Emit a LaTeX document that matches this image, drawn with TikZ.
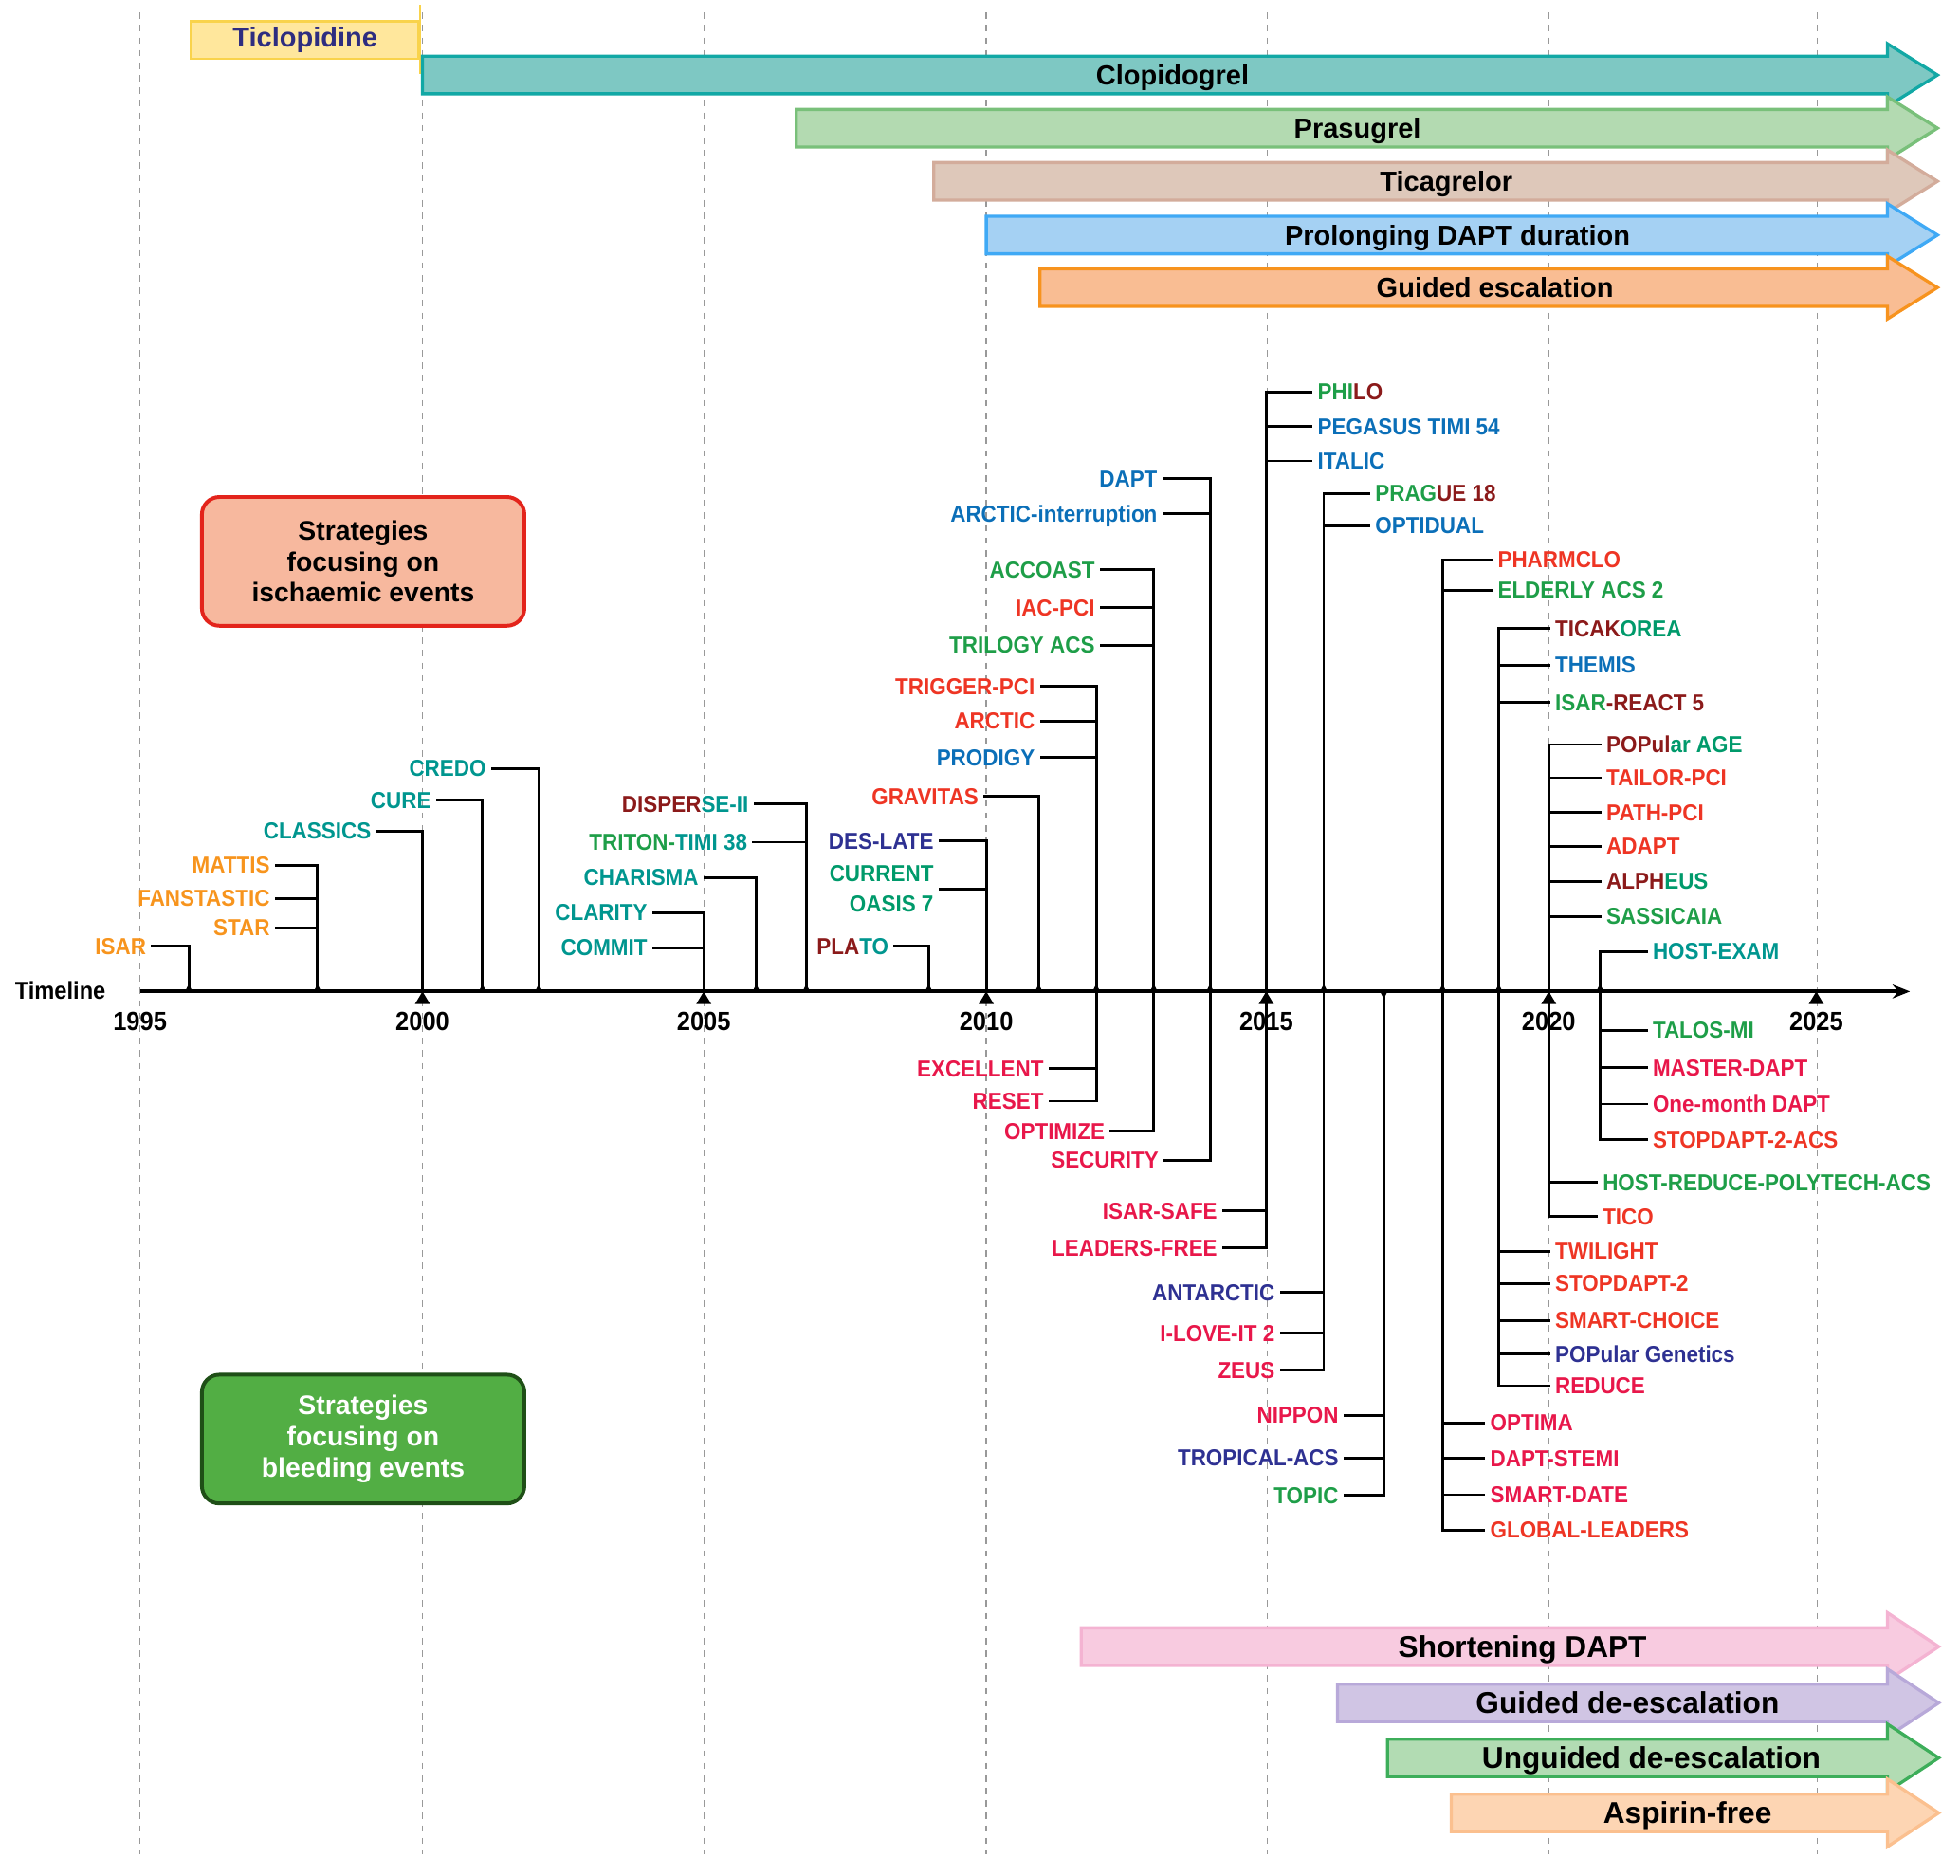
\documentclass[tikz,border=0pt]{standalone}
\usepackage{fontspec}
\setmainfont{Liberation Sans}
\newfontfamily\trialfont[FakeStretch=0.92]{Liberation Sans}
\usetikzlibrary{arrows.meta,positioning}

% trial colours
\definecolor{trOrange}{HTML}{F7941D}
\definecolor{trTeal}{HTML}{00968F}
\definecolor{trJade}{HTML}{009A6B}
\definecolor{trGreen}{HTML}{1E9E48}
\definecolor{trBrown}{HTML}{8B1A1A}
\definecolor{trRed}{HTML}{EE3524}
\definecolor{trCrimson}{HTML}{E8174A}
\definecolor{trBlue}{HTML}{0B6FB8}
\definecolor{trNavy}{HTML}{2E3192}
% band colours
\definecolor{ticFill}{HTML}{FFE79C}
\definecolor{ticLine}{HTML}{F9D34B}
\definecolor{ticText}{HTML}{2E2D80}
\definecolor{clopFill}{HTML}{7EC8C3}
\definecolor{clopLine}{HTML}{12A8A5}
\definecolor{prasFill}{HTML}{B3DAB1}
\definecolor{prasLine}{HTML}{79C07A}
\definecolor{ticaFill}{HTML}{DEC8BA}
\definecolor{ticaLine}{HTML}{D3AC9B}
\definecolor{prolFill}{HTML}{A5D1F3}
\definecolor{prolLine}{HTML}{3FA9F5}
\definecolor{escFill}{HTML}{F9BD93}
\definecolor{escLine}{HTML}{F7931E}
\definecolor{shortFill}{HTML}{F8CBE0}
\definecolor{shortLine}{HTML}{F4B3D2}
\definecolor{gdeFill}{HTML}{D0C5E4}
\definecolor{gdeLine}{HTML}{B8A9D9}
\definecolor{udeFill}{HTML}{B2DCB3}
\definecolor{udeLine}{HTML}{3DAE5A}
\definecolor{aspFill}{HTML}{FDD5B3}
\definecolor{aspLine}{HTML}{FBC08F}
\definecolor{ischFill}{HTML}{F7B89E}
\definecolor{ischLine}{HTML}{E3241B}
\definecolor{bleedFill}{HTML}{52AE44}
\definecolor{bleedLine}{HTML}{1F4F17}

\tikzset{
  trial/.style={font=\trialfont\bfseries\fontsize{18.5}{21}\selectfont, inner xsep=5pt, inner ysep=1pt, text depth=0pt},
  year/.style={font=\trialfont\bfseries\fontsize{21}{24}\selectfont, text depth=0pt},
  stem/.style={line width=2.2pt, line cap=rect},
  timeaxis/.style={line width=3pt, -{Stealth[length=14pt,width=11pt]}},
  yearline/.style={black!40, line width=1pt, dash pattern=on 5pt off 5pt},
  drug/.style={font=\bfseries\fontsize{22}{26}\selectfont, text depth=0pt},
  strat/.style={font=\bfseries\fontsize{24}{28}\selectfont, text depth=0pt},
  bandline/.style={line width=2.5pt, line join=miter},
  ticbox/.style={fill=ticFill, draw=ticLine, line width=2pt, minimum width=182pt, minimum height=30pt, text=ticText, font=\bfseries\fontsize{22}{26}\selectfont},
  aim/.style={rounded corners=14pt, line width=3pt, minimum width=258pt, minimum height=103pt, align=center, font=\bfseries\fontsize{21.5}{25}\selectfont}
}

\begin{document}
\begin{tikzpicture}[x=1pt,y=-1pt]
\useasboundingbox (0,0) rectangle (1568,1500);

% year grid
\foreach \x in {112,338,563,789,1014,1239,1454}
  \draw[yearline] (\x,10) -- (\x,1483);

% drugs
\node[ticbox] (ticlo) at (244,32) {Ticlopidine};
\draw[ticLine, line width=2pt] (ticlo.east) ++(0,-28) -- ++(0,55);
\foreach \xa/\yc/\fc/\lc/\nm/\lx/\txt in {
  338/60/clopFill/clopLine/clop/938/Clopidogrel,
  637/102.5/prasFill/prasLine/pras/1086/Prasugrel,
  747/145/ticaFill/ticaLine/tica/1157/Ticagrelor,
  789/188/prolFill/prolLine/prol/1166/Prolonging DAPT duration,
  832/230/escFill/escLine/esc/1196/Guided escalation}
{
  \filldraw[bandline, fill=\fc, draw=\lc] (\xa,\yc-15) -- (1510,\yc-15) -- (1510,\yc-25) -- (1550,\yc)
    -- (1510,\yc+25) -- (1510,\yc+15) -- (\xa,\yc+15) -- cycle;
  \node[drug] (\nm) at (\lx,\yc) {\txt};
}

% strategies
\foreach \xa/\yc/\fc/\lc/\nm/\lx/\txt in {
  865/1317/shortFill/shortLine/shortdapt/1218/Shortening DAPT,
  1070/1362/gdeFill/gdeLine/guidedde/1302/Guided de-escalation,
  1110/1406/udeFill/udeLine/unguidedde/1321/Unguided de-escalation,
  1161/1450/aspFill/aspLine/aspfree/1350/Aspirin-free}
{
  \filldraw[bandline, fill=\fc, draw=\lc] (\xa,\yc-15) -- (1510,\yc-15) -- (1510,\yc-27) -- (1551,\yc)
    -- (1510,\yc+27) -- (1510,\yc+15) -- (\xa,\yc+15) -- cycle;
  \node[strat] (\nm) at (\lx,\yc) {\txt};
}
\node[aim, fill=ischFill, draw=ischLine] (ischaemic) at (290.5,449) {Strategies\\focusing on\\ischaemic events};
\node[aim, fill=bleedFill, draw=bleedLine, text=white] (bleeding) at (290.5,1151) {Strategies\\focusing on\\bleeding events};

% Timeline
\foreach \t/\x in {1995/112,1996/151,1998/254,2000/338,2001/386,2002/431,2005/563,2006/605,2007/645,
  2009/743,2010/789,2011/831,2012/877,2013/923,2014/968,2015/1013,2016/1059,2017/1107,2018/1154,
  2019/1199,2020/1239,2021/1280,2025/1453}
  \coordinate (t\t) at (\x,793);
\coordinate (tend) at (1528,793);
\draw[timeaxis] (t1995) -- (tend);
\node[year, anchor=east, font=\trialfont\bfseries\fontsize{19.5}{22}\selectfont] (timeline) at (88,792) {Timeline};
\foreach \t in {1995,2000,2005,2010,2015,2020,2025}
  \node[year] (l\t) at ([yshift=-24pt]t\t) {\t};
\foreach \t in {2000,2005,2010,2015,2020,2025}
  \fill (t\t) ++(-6,10) -- ++(6,-10) -- ++(6,10) -- cycle;

% above the line, labels on the left
\node[trial, anchor=east, text=trOrange] (isar) at (122,757) {ISAR};
\draw[stem] (t1996) |- (isar.east);
\foreach \n/\yy/\txt in {mattis/692/MATTIS, fanstastic/718.6/FANSTASTIC, star/742/STAR}
{ \node[trial, anchor=east, text=trOrange] (\n) at (221,\yy) {\txt};
  \draw[stem] (\n.east) -- (\n.east -| t1998); }
\draw[stem] (t1998) -- (t1998 |- mattis.east);
\node[trial, anchor=east, text=trTeal] (classics) at (302,664.6) {CLASSICS};
\draw[stem] (t2000) |- (classics.east);
\node[trial, anchor=east, text=trTeal] (cure) at (350,640) {CURE};
\draw[stem] (t2001) |- (cure.east);
\node[trial, anchor=east, text=trTeal] (credo) at (394,614.5) {CREDO};
\draw[stem] (t2002) |- (credo.east);
\foreach \n/\yy/\txt in {clarity/730/CLARITY, commit/758/COMMIT}
{ \node[trial, anchor=east, text=trTeal] (\n) at (523,\yy) {\txt};
  \draw[stem] (\n.east) -- (\n.east -| t2005); }
\draw[stem] (t2005) -- (t2005 |- clarity.east);
\node[trial, anchor=east, text=trTeal] (charisma) at (564,702) {CHARISMA};
\draw[stem] (t2006) |- (charisma.east);
\node[trial, anchor=east, text=trBrown] (disperse) at (604,643) {DISPER\textcolor{trTeal}{SE-II}};
\node[trial, anchor=east, text=trGreen] (triton) at (603,673.6) {TRITON-\textcolor{trTeal}{TIMI 38}};
\draw[stem] (t2007) |- (disperse.east);
\draw[stem] (triton.east) -- (triton.east -| t2007);
\node[trial, anchor=east, text=trBrown] (plato) at (716,757) {PLA\textcolor{trTeal}{TO}};
\draw[stem] (t2009) |- (plato.east);
\node[trial, anchor=east, text=trNavy] (deslate) at (752,672.6) {DES-LATE};
\node[trial, anchor=east, text=trJade, align=right] (current) at (752,711) {CURRENT\\[3pt]OASIS 7};
\draw[stem] (t2010) |- (deslate.east);
\draw[stem] (current.east) -- (current.east -| t2010);
\node[trial, anchor=east, text=trRed] (gravitas) at (788,637) {GRAVITAS};
\draw[stem] (t2011) |- (gravitas.east);
\foreach \n/\yy/\c/\txt in {trigger/549/trRed/TRIGGER-PCI, arctic/576.6/trRed/ARCTIC, prodigy/606/trBlue/PRODIGY}
{ \node[trial, anchor=east, text=\c] (\n) at (833,\yy) {\txt};
  \draw[stem] (\n.east) -- (\n.east -| t2012); }
\draw[stem] (t2012) -- (t2012 |- trigger.east);
\foreach \n/\yy/\c/\txt in {accoast/455.6/trGreen/ACCOAST, iacpci/486/trRed/IAC-PCI, trilogy/516/trGreen/TRILOGY ACS}
{ \node[trial, anchor=east, text=\c] (\n) at (881,\yy) {\txt};
  \draw[stem] (\n.east) -- (\n.east -| t2013); }
\draw[stem] (t2013) -- (t2013 |- accoast.east);
\foreach \n/\yy/\txt in {dapt/383/DAPT, arcticint/411/ARCTIC-interruption}
{ \node[trial, anchor=east, text=trBlue] (\n) at (931,\yy) {\txt};
  \draw[stem] (\n.east) -- (\n.east -| t2014); }
\draw[stem] (t2014) -- (t2014 |- dapt.east);

% above the line, labels on the right
\foreach \n/\yy/\c/\txt in {philo/313.5/trGreen/{PHI\textcolor{trBrown}{LO}}, pegasus/341/trBlue/PEGASUS TIMI 54, italic/368.7/trBlue/ITALIC}
{ \node[trial, anchor=west, text=\c] (\n) at (1049,\yy) {\txt};
  \draw[stem] (\n.west) -- (\n.west -| t2015); }
\draw[stem] (t2015) -- (t2015 |- philo.west);
\foreach \n/\yy/\c/\txt in {prague/394.5/trGreen/{PRAG\textcolor{trBrown}{UE 18}}, optidual/420.5/trBlue/OPTIDUAL}
{ \node[trial, anchor=west, text=\c] (\n) at (1095,\yy) {\txt};
  \draw[stem] (\n.west) -- (\n.west -| t2016); }
\draw[stem] (t2016) -- (t2016 |- prague.west);
\foreach \n/\yy/\c/\txt in {pharmclo/447.6/trRed/PHARMCLO, elderly/472/trGreen/ELDERLY ACS 2}
{ \node[trial, anchor=west, text=\c] (\n) at (1193,\yy) {\txt};
  \draw[stem] (\n.west) -- (\n.west -| t2018); }
\draw[stem] (t2018) -- (t2018 |- pharmclo.west);
\foreach \n/\yy/\c/\txt in {ticakorea/502.7/trBrown/{TICAK\textcolor{trJade}{OREA}}, themis/532/trBlue/THEMIS, isarreact/562/trGreen/{ISAR\textcolor{trBrown}{-REACT 5}}}
{ \node[trial, anchor=west, text=\c] (\n) at (1239,\yy) {\txt};
  \draw[stem] (\n.west) -- (\n.west -| t2019); }
\draw[stem] (t2019) -- (t2019 |- ticakorea.west);
\foreach \n/\yy/\c/\txt in {popage/595.5/trBrown/{POPul\textcolor{trJade}{ar AGE}}, tailor/622/trRed/TAILOR-PCI, pathpci/650/trRed/PATH-PCI,
  adapt/677/trRed/ADAPT, alpheus/705/trBrown/{ALPH\textcolor{trJade}{EUS}}, sassicaia/733/trGreen/SASSICAIA}
{ \node[trial, anchor=west, text=\c] (\n) at (1280,\yy) {\txt};
  \draw[stem] (\n.west) -- (\n.west -| t2020); }
\draw[stem] (t2020) -- (t2020 |- popage.west);
\node[trial, anchor=west, text=trTeal] (hostexam) at (1317,761) {HOST-EXAM};
\draw[stem] (t2021) |- (hostexam.west);

% below the line, labels on the left
\foreach \n/\yy/\txt in {excellent/854.6/EXCELLENT, reset/880.7/RESET}
{ \node[trial, anchor=east, text=trCrimson] (\n) at (840,\yy) {\txt};
  \draw[stem] (\n.east) -- (\n.east -| t2012); }
\draw[stem] (t2012) -- (t2012 |- reset.east);
\node[trial, anchor=east, text=trCrimson] (optimize) at (889,904.7) {OPTIMIZE};
\draw[stem] (t2013) |- (optimize.east);
\node[trial, anchor=east, text=trCrimson] (security) at (932,928) {SECURITY};
\draw[stem] (t2014) |- (security.east);
\foreach \n/\yy/\txt in {isarsafe/968.4/ISAR-SAFE, leadersfree/998/LEADERS-FREE}
{ \node[trial, anchor=east, text=trCrimson] (\n) at (979,\yy) {\txt};
  \draw[stem] (\n.east) -- (\n.east -| t2015); }
\draw[stem] (t2015) -- (t2015 |- leadersfree.east);
\foreach \n/\yy/\c/\txt in {antarctic/1033.7/trNavy/ANTARCTIC, iloveit/1066.3/trCrimson/I-LOVE-IT 2, zeus/1096/trCrimson/ZEUS}
{ \node[trial, anchor=east, text=\c] (\n) at (1025,\yy) {\txt};
  \draw[stem] (\n.east) -- (\n.east -| t2016); }
\draw[stem] (t2016) -- (t2016 |- zeus.east);
\foreach \n/\yy/\c/\txt in {nippon/1132/trCrimson/NIPPON, tropical/1166/trNavy/TROPICAL-ACS, topic/1196/trGreen/TOPIC}
{ \node[trial, anchor=east, text=\c] (\n) at (1076,\yy) {\txt};
  \draw[stem] (\n.east) -- (\n.east -| t2017); }
\draw[stem] (t2017) -- (t2017 |- topic.east);

% below the line, labels on the right
\foreach \n/\yy/\c/\txt in {talos/824/trGreen/TALOS-MI, masterdapt/854/trCrimson/MASTER-DAPT, onemonth/883/trCrimson/One-month DAPT, stopacs/911.5/trRed/STOPDAPT-2-ACS}
{ \node[trial, anchor=west, text=\c] (\n) at (1317,\yy) {\txt};
  \draw[stem] (\n.west) -- (\n.west -| t2021); }
\draw[stem] (t2021) -- (t2021 |- stopacs.west);
\foreach \n/\yy/\c/\txt in {hostreduce/945.7/trGreen/HOST-REDUCE-POLYTECH-ACS, tico/973/trRed/TICO}
{ \node[trial, anchor=west, text=\c] (\n) at (1277,\yy) {\txt};
  \draw[stem] (\n.west) -- (\n.west -| t2020); }
\draw[stem] (t2020) -- (t2020 |- tico.west);
\foreach \n/\yy/\c/\txt in {twilight/1000.6/trRed/TWILIGHT, stopdapt/1026.6/trRed/STOPDAPT-2, smartchoice/1056/trRed/SMART-CHOICE,
  popgen/1083/trNavy/POPular Genetics, reduce/1108.3/trCrimson/REDUCE}
{ \node[trial, anchor=west, text=\c] (\n) at (1239,\yy) {\txt};
  \draw[stem] (\n.west) -- (\n.west -| t2019); }
\draw[stem] (t2019) -- (t2019 |- reduce.west);
\foreach \n/\yy/\c/\txt in {optima/1138/trCrimson/OPTIMA, daptstemi/1166.4/trCrimson/DAPT-STEMI, smartdate/1195.5/trCrimson/SMART-DATE, global/1223.7/trRed/GLOBAL-LEADERS}
{ \node[trial, anchor=west, text=\c] (\n) at (1187,\yy) {\txt};
  \draw[stem] (\n.west) -- (\n.west -| t2018); }
\draw[stem] (t2018) -- (t2018 |- global.west);

% stem feet
\foreach \t in {1996,1998,2001,2002,2006,2007,2009,2011,2012,2013,2014,2016,2018,2019,2021}
  \fill (t\t) ++(-3,0) -- ++(3,-6) -- ++(3,6) -- cycle;
\fill (t2017) ++(-3,0) -- ++(3,6) -- ++(3,-6) -- cycle;
\end{tikzpicture}
\end{document}
